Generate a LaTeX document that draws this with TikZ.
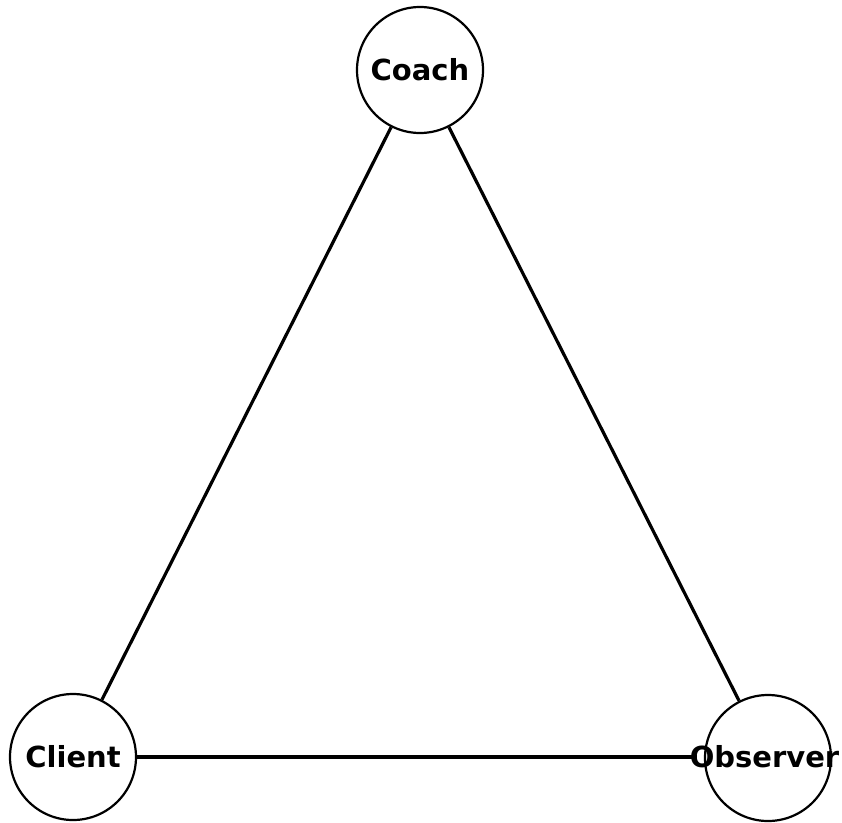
\documentclass[tikz,border=0pt]{standalone}
\usepackage{fontspec}
\setmainfont{DejaVu Sans}
\usetikzlibrary{calc}
\begin{document}
\begin{tikzpicture}[x=1pt,y=-1pt,
  role/.style={circle,draw=black,line width=2.2pt,fill=white,minimum size=126pt,inner sep=0pt},
  rolename/.style={inner sep=0pt,font=\fontsize{29}{30}\selectfont\bfseries},
  tie/.style={line width=3.2pt,draw=black}]
\useasboundingbox (0,0) rectangle (842,822);
% circles for the three roles
\node[role] (coach) at (420,70) {};
\node[role] (client) at (73,757) {};
\node[role] (observer) at (768,758) {};
\coordinate (obsin) at (697,757);
% ties between roles
\draw[tie] (coach) -- (client);
\draw[tie] (coach) -- (observer);
\draw[tie] (client) -- (obsin);
% role names
\node[rolename] (coachtext) at (coach) {Coach};
\node[rolename] (clienttext) at (client) {Client};
\node[rolename] (observertext) at (764.5,757) {Observer};
\end{tikzpicture}
\end{document}
